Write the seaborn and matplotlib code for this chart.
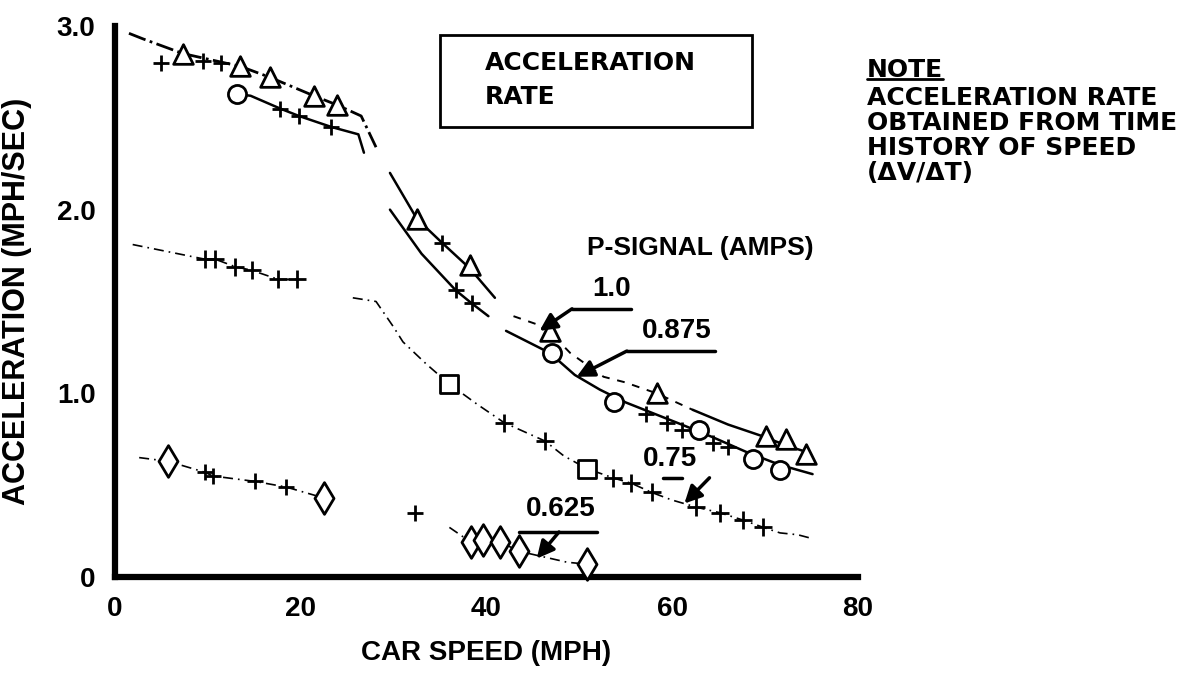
import matplotlib
matplotlib.use("Agg")
import matplotlib.pyplot as plt
from matplotlib.patches import Rectangle
import seaborn as sns

# --- data (car speed mph, acceleration mph/sec) ---
# P-signal 1.0 A (triangles)
p10_lo_x = [1.5, 3.0, 7.3, 13.5, 16.7, 21.4, 23.9, 26.5, 28.1]
p10_lo_y = [2.96, 2.93, 2.85, 2.78, 2.72, 2.62, 2.57, 2.51, 2.34]
p10_hi_x = [29.6, 32.5, 35.2, 38.2, 40.9]
p10_hi_y = [2.20, 1.95, 1.82, 1.68, 1.52]
p10_mid_x = [42.9, 46.3, 49.0, 52.6, 54.9, 58.3, 62.2]
p10_mid_y = [1.42, 1.36, 1.22, 1.09, 1.06, 1.00, 0.91]
p10_end_x = [62.2, 66.0, 69.5, 72.6, 74.5]
p10_end_y = [0.91, 0.83, 0.77, 0.71, 0.68]
p10_tri_x = [7.3, 13.5, 16.7, 21.4, 23.9, 32.5, 38.2, 46.8, 58.3, 70.1, 72.2, 74.4]
p10_tri_y = [2.85, 2.78, 2.72, 2.62, 2.57, 1.95, 1.70, 1.34, 1.00, 0.77, 0.75, 0.67]
p10_plus_x = [4.9, 9.5, 11.4, 35.2]
p10_plus_y = [2.80, 2.81, 2.80, 1.82]

# P-signal 0.875 A (crosses / circles)
p875_lo_x = [13.1, 14.6, 17.8, 19.8, 23.3, 26.2, 26.8]
p875_lo_y = [2.63, 2.62, 2.55, 2.51, 2.45, 2.41, 2.31]
p875_hi_x = [29.6, 33.0, 36.7, 38.4, 40.2]
p875_hi_y = [2.00, 1.76, 1.56, 1.49, 1.42]
p875_end_x = [42.1, 46.8, 49.5, 52.2, 55.0, 58.0, 61.0, 64.4, 68.0, 71.6, 75.1]
p875_end_y = [1.34, 1.22, 1.10, 1.02, 0.95, 0.89, 0.83, 0.76, 0.68, 0.61, 0.56]
p875_plus_x = [17.8, 19.8, 23.3, 36.7, 38.4, 57.2, 59.4, 61.0, 64.4, 66.0]
p875_plus_y = [2.55, 2.51, 2.45, 1.56, 1.49, 0.89, 0.84, 0.80, 0.73, 0.71]
p875_circ_x = [13.1, 47.0, 53.7, 62.9, 68.7, 71.6]
p875_circ_y = [2.63, 1.22, 0.95, 0.80, 0.64, 0.58]

# P-signal 0.75 A (squares / ticks)
p75_lo_x = [1.9, 9.7, 10.8, 12.9, 14.7, 17.6, 19.6]
p75_lo_y = [1.81, 1.73, 1.73, 1.69, 1.67, 1.62, 1.62]
p75_hi_x = [25.6, 28.1, 30.0, 31.0, 33.5, 36.0, 39.0, 41.9, 46.3, 48.3, 50.8,
            53.6, 55.6, 57.8, 59.9, 62.6, 65.1, 67.6, 69.8, 71.6, 73.5, 75.0]
p75_hi_y = [1.52, 1.50, 1.36, 1.28, 1.16, 1.05, 0.94, 0.84, 0.74, 0.66, 0.59,
            0.54, 0.51, 0.46, 0.42, 0.38, 0.35, 0.31, 0.27, 0.24, 0.23, 0.21]
p75_sq_x = [36.0, 50.8]
p75_sq_y = [1.05, 0.59]
p75_bar_x = [9.7, 10.8, 12.9, 14.7, 17.6, 19.6, 41.9, 46.3, 53.6, 55.6, 57.8,
             62.6, 65.1, 67.6, 69.8]
p75_bar_y = [1.73, 1.73, 1.69, 1.67, 1.62, 1.62, 0.84, 0.74, 0.54, 0.51, 0.46,
             0.38, 0.35, 0.31, 0.27]

# P-signal 0.625 A (diamonds)
p625_lo_x = [2.6, 5.7, 9.7, 10.5, 15.1, 18.4, 22.5]
p625_lo_y = [0.65, 0.63, 0.57, 0.55, 0.52, 0.49, 0.43]
p625_hi_x = [36.0, 38.3, 39.6, 41.5, 43.5, 48.7, 50.8]
p625_hi_y = [0.27, 0.19, 0.20, 0.19, 0.14, 0.08, 0.07]
p625_dia_x = [5.7, 22.5, 38.3, 39.6, 41.5, 43.5, 50.8]
p625_dia_y = [0.63, 0.43, 0.19, 0.20, 0.19, 0.14, 0.07]
p625_plus_x = [9.7, 10.5, 15.1, 18.4, 32.3]
p625_plus_y = [0.57, 0.55, 0.52, 0.49, 0.35]

x_ticks = [0, 20, 40, 60, 80]
y_ticks = [0, 1, 2, 3]
y_tick_labels = ["0", "1.0", "2.0", "3.0"]
note_lines = ["ACCELERATION RATE", "OBTAINED FROM TIME", "HISTORY OF SPEED", "(ΔV/ΔT)"]

sns.set_theme(style="white")
plt.rcParams["font.family"] = ["Liberation Sans", "DejaVu Sans"]
plt.rcParams["text.color"] = "black"
plt.rcParams["axes.labelcolor"] = "black"
plt.rcParams["xtick.color"] = "black"
plt.rcParams["ytick.color"] = "black"
wide = ["DejaVu Sans", "Liberation Sans"]

fig = plt.figure(figsize=(11.87, 6.8), dpi=100)
ax = fig.add_axes([0.0969, 0.1515, 0.626, 0.8103])


def trace(x, y, style, lw=1.6):
    sns.lineplot(x=x, y=y, ax=ax, color="black", linestyle=style, linewidth=lw,
                 sort=False, estimator=None)


def open_marks(x, y, marker, size):
    sns.scatterplot(x=x, y=y, ax=ax, marker=marker, s=size, facecolor="white",
                    edgecolor="black", linewidth=2, zorder=3, clip_on=False)


def stroke_marks(x, y, marker, size):
    sns.scatterplot(x=x, y=y, ax=ax, marker=marker, s=size, color="black",
                    linewidth=2, zorder=3)


# lines
trace(p10_lo_x, p10_lo_y, "-.", 2.0)
trace(p10_hi_x, p10_hi_y, "-", 1.8)
trace(p10_mid_x, p10_mid_y, (0, (4, 4)), 1.4)
trace(p10_end_x, p10_end_y, "-", 1.8)
trace(p875_lo_x, p875_lo_y, "-", 1.8)
trace(p875_hi_x, p875_hi_y, "-", 1.8)
trace(p875_end_x, p875_end_y, "-", 1.8)
trace(p75_lo_x, p75_lo_y, (0, (6, 3, 1, 3)), 1.2)
trace(p75_hi_x, p75_hi_y, (0, (6, 3, 1, 3)), 1.2)
trace(p625_lo_x, p625_lo_y, (0, (6, 3, 1, 3)), 1.2)
trace(p625_hi_x, p625_hi_y, (0, (6, 3, 1, 3)), 1.2)

# markers
open_marks(p10_tri_x, p10_tri_y, "^", 200)
open_marks(p875_circ_x, p875_circ_y, "o", 170)
open_marks(p75_sq_x, p75_sq_y, "s", 170)
open_marks(p625_dia_x, p625_dia_y, "d", 260)
stroke_marks(p10_plus_x, p10_plus_y, "+", 120)
stroke_marks(p875_plus_x, p875_plus_y, "+", 120)
stroke_marks(p75_bar_x, p75_bar_y, "+", 150)
stroke_marks(p625_plus_x, p625_plus_y, "+", 140)

# axes
ax.set_xlim(0, 80)
ax.set_ylim(0, 3.0)
ax.set_xticks(x_ticks)
ax.set_xticklabels([str(v) for v in x_ticks], fontsize=20, fontweight="bold")
ax.set_yticks(y_ticks)
ax.set_yticklabels(y_tick_labels, fontsize=20, fontweight="bold")
ax.tick_params(axis="both", direction="in", length=11, width=1.6, color="black",
               labelcolor="black")
ax.tick_params(axis="x", pad=14)
ax.tick_params(axis="y", pad=14)
for side in ["top", "right"]:
    ax.spines[side].set_visible(False)
for side in ["left", "bottom"]:
    ax.spines[side].set_linewidth(4.5)
    ax.spines[side].set_color("black")
ax.set_xlabel("CAR SPEED (MPH)", fontsize=20, fontweight="bold")
ax.xaxis.set_label_coords(0.5, -0.115)
ax.set_ylabel("ACCELERATION (MPH/SEC)", fontsize=22, fontweight="bold")
ax.yaxis.set_label_coords(-0.112, 0.5)

# curve labels with leaders
lab = dict(fontsize=20, fontweight="bold", ha="center", va="center")
arrow = dict(arrowstyle="-|>", color="black", lw=2.5, mutation_scale=26, shrinkA=0, shrinkB=0)
ax.text(63.0, 1.79, "P-SIGNAL (AMPS)", fontsize=19, fontweight="bold", ha="center", va="center")

ax.text(53.5, 1.57, "1.0", **lab)
ax.plot([49.2, 55.6], [1.46, 1.46], color="black", lw=2.5)
ax.annotate("", xy=(45.7, 1.34), xytext=(49.2, 1.46), arrowprops=arrow)

ax.text(60.5, 1.34, "0.875", **lab)
ax.plot([55.1, 64.6], [1.23, 1.23], color="black", lw=2.5)
ax.annotate("", xy=(49.7, 1.09), xytext=(55.1, 1.23), arrowprops=arrow)

ax.text(59.8, 0.64, "0.75", **lab)
ax.plot([59.0, 61.0], [0.54, 0.54], color="black", lw=2.5)
ax.annotate("", xy=(61.3, 0.40), xytext=(64.0, 0.54), arrowprops=arrow)

ax.text(48.0, 0.37, "0.625", **lab)
ax.plot([43.5, 51.9], [0.245, 0.245], color="black", lw=2.5)
ax.annotate("", xy=(45.4, 0.10), xytext=(47.8, 0.245), arrowprops=arrow)

# title box
fig.patches.append(Rectangle((0.3707, 0.8132), 0.2628, 0.1353, transform=fig.transFigure,
                             fill=False, edgecolor="black", linewidth=2))
fig.text(0.4086, 0.9074, "ACCELERATION", fontsize=18, fontweight="bold", va="center", family=wide)
fig.text(0.4086, 0.857, "RATE", fontsize=18, fontweight="bold", va="center", family=wide)

# note
note = fig.text(0.7304, 0.897, "NOTE", fontsize=18, fontweight="bold", va="center", family=wide)
for i, line in enumerate(note_lines):
    fig.text(0.7304, 0.856 - i * 0.037, line, fontsize=18, fontweight="bold", va="center",
             family=wide)
fig.canvas.draw()
bb = note.get_window_extent().transformed(fig.transFigure.inverted())
fig.add_artist(plt.Line2D([bb.x0, bb.x1], [bb.y0 + 0.004, bb.y0 + 0.004], color="black", lw=2))

fig.savefig("out.png", dpi=100)
